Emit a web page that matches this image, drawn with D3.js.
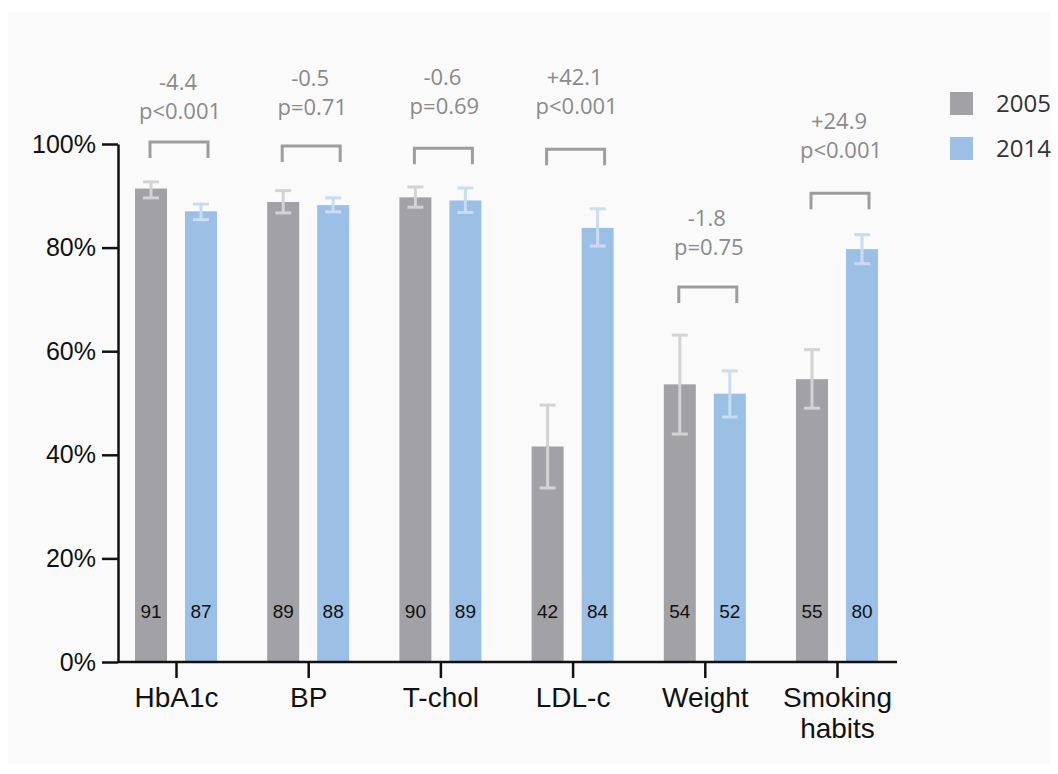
<!DOCTYPE html>
<html>
<head>
<meta charset="utf-8">
<script src="https://cdn.jsdelivr.net/npm/d3@7"></script>
<style>
  body { margin: 0; background: #fff; }
  svg { display: block; }
  .axis text { font-family: "Liberation Sans", Arial, sans-serif; fill: #111; }
  .axis path, .axis line { stroke: #111; stroke-width: 2.5; }
</style>
</head>
<body>
<div id="chart"></div>
<script>
// Data
const categories = ["HbA1c", "BP", "T-chol", "LDL-c", "Weight", "Smoking habits"];
const years = ["2005", "2014"];
const values2005 = [91.4, 88.8, 89.7, 41.6, 53.6, 54.6];
const values2014 = [87.0, 88.2, 89.1, 83.8, 51.8, 79.7];
const labels2005 = [91, 89, 90, 42, 54, 55];
const labels2014 = [87, 88, 89, 84, 52, 80];
const low2005 = [89.6, 86.7, 87.8, 33.6, 44.0, 49.0];
const high2005 = [92.7, 91.0, 91.7, 49.6, 63.1, 60.3];
const low2014 = [85.4, 86.9, 86.8, 80.3, 47.3, 76.9];
const high2014 = [88.4, 89.6, 91.5, 87.5, 56.2, 82.5];
const diffs = ["-4.4", "-0.5", "-0.6", "+42.1", "-1.8", "+24.9"];
const pvalues = ["p<0.001", "p=0.71", "p=0.69", "p<0.001", "p=0.75", "p<0.001"];
const bracketLevel = [100.4, 99.6, 99.2, 99.0, 72.4, 90.5];
const textLevel = [110.4, 111.2, 111.4, 111.4, 84.2, 102.8];
const yTicks = [0, 20, 40, 60, 80, 100];

const colors = { "2005": "#a2a2a6", "2014": "#9bbfe5" };
const errColors = { "2005": "#d3d3d3", "2014": "#c9dcf1" };

const width = 1058, height = 774;

const svg = d3.select("#chart").append("svg")
    .attr("width", width)
    .attr("height", height);

// panel background
svg.append("rect")
    .attr("x", 8).attr("y", 12)
    .attr("width", 1042).attr("height", 752)
    .attr("fill", "#fafafa");

// Scales
const x = d3.scalePoint().domain(categories).range([176, 837]);
const xs = d3.scalePoint().domain(years).range([-25, 25]);
const y = d3.scaleLinear().domain([0, 100]).range([662, 144]);
const barW = 32;

const rows = categories.map((c, i) => ({
    cat: c,
    series: [
        { year: "2005", v: values2005[i], label: labels2005[i], lo: low2005[i], hi: high2005[i] },
        { year: "2014", v: values2014[i], label: labels2014[i], lo: low2014[i], hi: high2014[i] }
    ],
    diff: diffs[i], p: pvalues[i], level: bracketLevel[i], tlevel: textLevel[i]
}));

// Bars
const groups = svg.append("g").selectAll("g")
    .data(rows)
    .join("g")
    .attr("transform", d => `translate(${x(d.cat)},0)`);

groups.selectAll("rect")
    .data(d => d.series)
    .join("rect")
    .attr("x", d => xs(d.year) - barW / 2)
    .attr("y", d => y(d.v))
    .attr("width", barW)
    .attr("height", d => y(0) - y(d.v))
    .attr("fill", d => colors[d.year]);

// Error bars
const err = groups.selectAll("g.err")
    .data(d => d.series)
    .join("g")
    .attr("class", "err")
    .attr("stroke", d => errColors[d.year])
    .attr("stroke-width", 3);

err.append("line")
    .attr("x1", d => xs(d.year)).attr("x2", d => xs(d.year))
    .attr("y1", d => y(d.lo)).attr("y2", d => y(d.hi));
err.append("line")
    .attr("x1", d => xs(d.year) - 8).attr("x2", d => xs(d.year) + 8)
    .attr("y1", d => y(d.hi)).attr("y2", d => y(d.hi));
err.append("line")
    .attr("x1", d => xs(d.year) - 8).attr("x2", d => xs(d.year) + 8)
    .attr("y1", d => y(d.lo)).attr("y2", d => y(d.lo));

// Value labels inside bars
groups.selectAll("text.val")
    .data(d => d.series)
    .join("text")
    .attr("class", "val")
    .attr("x", d => xs(d.year))
    .attr("y", 618)
    .attr("text-anchor", "middle")
    .attr("font-family", "'Liberation Sans', Arial, sans-serif")
    .attr("font-size", 19)
    .attr("fill", "#111")
    .text(d => d.label);

// Brackets and annotations
groups.append("path")
    .attr("d", d => {
        const top = y(d.level);
        const x0 = xs("2005") - 1, x1 = xs("2014") + 7;
        return `M${x0},${top + 16}V${top}H${x1}V${top + 16}`;
    })
    .attr("fill", "none")
    .attr("stroke", "#9d9d9d")
    .attr("stroke-width", 3);

groups.append("text")
    .attr("x", 2)
    .attr("y", d => y(d.tlevel))
    .attr("text-anchor", "middle")
    .attr("font-family", "'Open Sans', sans-serif")
    .attr("font-size", 22)
    .attr("fill", "#8a8a8a")
    .text(d => d.diff);

groups.append("text")
    .attr("x", 4)
    .attr("y", d => y(d.tlevel) + 29)
    .attr("text-anchor", "middle")
    .attr("font-family", "'Open Sans', sans-serif")
    .attr("font-size", 22)
    .attr("fill", "#8a8a8a")
    .text(d => d.p);

// Y axis
svg.append("g")
    .attr("class", "axis")
    .attr("transform", "translate(118,0)")
    .call(d3.axisLeft(y).tickValues(yTicks).tickFormat(d => d + "%").tickSize(16).tickSizeOuter(0).tickPadding(6))
    .call(g => g.selectAll("text").attr("font-size", 25));

// X axis
const xAxis = svg.append("g")
    .attr("class", "axis")
    .attr("transform", `translate(0,${y(0)})`)
    .call(d3.axisBottom(x).tickSize(16).tickSizeOuter(0).tickPadding(9));
xAxis.select(".domain").remove();
xAxis.append("line")
    .attr("x1", 118).attr("x2", 897)
    .attr("y1", 0).attr("y2", 0);
xAxis.selectAll(".tick text")
    .attr("font-size", 28)
    .each(function(d) {
        const t = d3.select(this);
        const words = d.split(" ");
        t.text(null);
        words.forEach((w, i) => {
            t.append("tspan")
                .attr("x", 0)
                .attr("dy", i === 0 ? "0.71em" : "1.1em")
                .text(w);
        });
    });

// Legend
const legend = svg.append("g");
legend.selectAll("rect")
    .data(years)
    .join("rect")
    .attr("x", 950)
    .attr("y", (d, i) => 92 + i * 45)
    .attr("width", 23)
    .attr("height", 23)
    .attr("fill", d => colors[d]);
legend.selectAll("text")
    .data(years)
    .join("text")
    .attr("x", 996)
    .attr("y", (d, i) => 112 + i * 45)
    .attr("font-family", "'Open Sans', sans-serif")
    .attr("font-size", 24)
    .attr("fill", "#333")
    .text(d => d);
</script>
</body>
</html>
